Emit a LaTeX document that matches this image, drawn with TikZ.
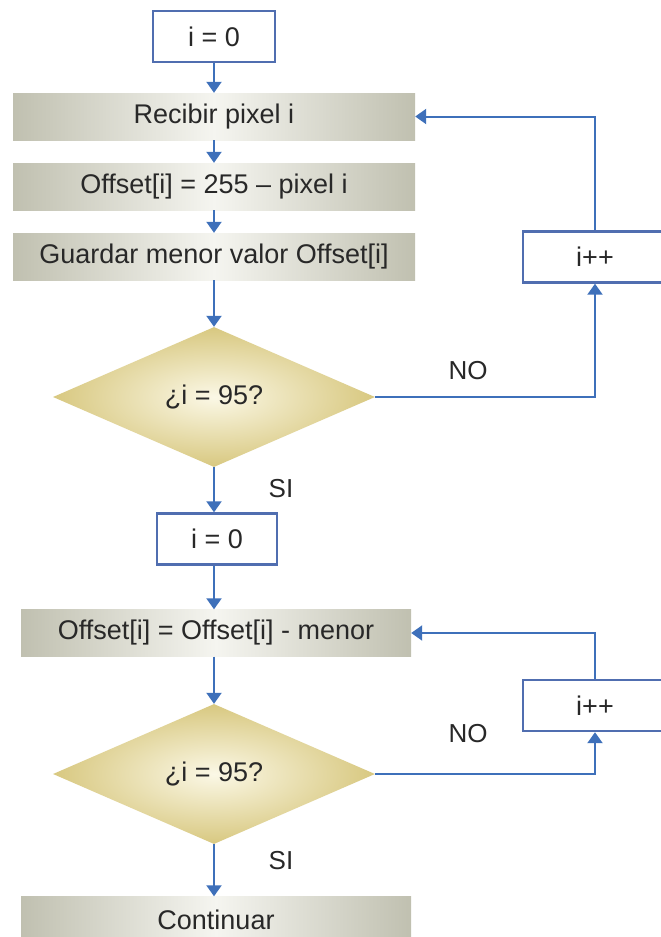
\documentclass[tikz,border=0pt]{standalone}
\usepackage{fontspec}
\setmainfont{Liberation Sans}
\usetikzlibrary{shapes.geometric,arrows.meta}
\definecolor{flowblue}{RGB}{62,112,186}
\definecolor{boxblue}{RGB}{80,110,176}
\definecolor{barEdge}{RGB}{192,192,176}
\definecolor{barMid}{RGB}{245,245,240}
\definecolor{diaEdge}{RGB}{216,200,128}
\definecolor{diaMid}{RGB}{251,248,230}
\definecolor{txt}{RGB}{40,40,40}
\tikzset{
  every node/.style={font=\fontsize{27}{31}\selectfont, text=txt, inner sep=0pt},
  initbox/.style={draw=boxblue, line width=2.4pt, fill=white, minimum height=51pt},
  bar/.style={left color=barEdge, right color=barEdge, middle color=barMid, minimum height=47pt},
  decision/.style={diamond, inner color=diaMid, outer color=diaEdge, minimum width=322pt, minimum height=140pt},
  flow/.style={draw=flowblue, line width=2pt, -{Triangle[width=15pt,length=11pt]}},
  lbl/.style={font=\fontsize{26}{30}\selectfont}
}
\begin{document}
\begin{tikzpicture}[x=1pt,y=-1pt]
\clip (0,0) rectangle (661,937);
\fill[white] (0,0) rectangle (661,937);

% first loop: read pixels and compute offsets
\node[initbox, minimum width=122pt] (init1) at (214,36.5) {i = 0};
\node[bar, minimum width=402pt] (recv) at (214,116.5) {Recibir pixel i};
\node[bar, minimum width=402pt] (off) at (214,186.5) {Offset[i] = 255 – pixel i};
\node[bar, minimum width=402pt] (keep) at (214,256.5) {Guardar menor valor Offset[i]};
\node[decision] (dec1) at (214,397) {¿i = 95?};
\node[initbox, minimum width=144pt] (inc1) at (595,257) {i++};

% second loop: subtract the minimum
\node[initbox, minimum width=120pt] (init2) at (217,539) {i = 0};
\node[bar, minimum width=390pt] (sub) at (216,633) {Offset[i] = Offset[i] - menor};
\node[decision] (dec2) at (214,774) {¿i = 95?};
\node[initbox, minimum width=144pt] (inc2) at (595,705.5) {i++};
\node[bar, minimum width=390pt] (cont) at (216,920) {Continuar};

% branch labels
\node[lbl] (no1) at (468,371) {NO};
\node[lbl] (si1) at (281,489) {SI};
\node[lbl] (no2) at (468,734) {NO};
\node[lbl] (si2) at (281,861) {SI};

% connectors
\draw[flow] (init1.south) -- (recv.north);
\draw[flow] (recv.south) -- (off.north);
\draw[flow] (off.south) -- (keep.north);
\draw[flow] (keep.south) -- (dec1.north);
\draw[flow] (dec1.east) -| (inc1.south);
\draw[flow] (inc1.north) |- (recv.east);
\draw[flow] (dec1.south) -- (init2.north -| dec1.south);
\draw[flow] (init2.south -| dec1.south) -- (sub.north -| dec1.south);
\draw[flow] (sub.south -| dec1.south) -- (dec2.north);
\draw[flow] (dec2.east) -| (inc2.south);
\draw[flow] (inc2.north) |- (sub.east);
\draw[flow] (dec2.south) -- (cont.north -| dec2.south);
\end{tikzpicture}
\end{document}
